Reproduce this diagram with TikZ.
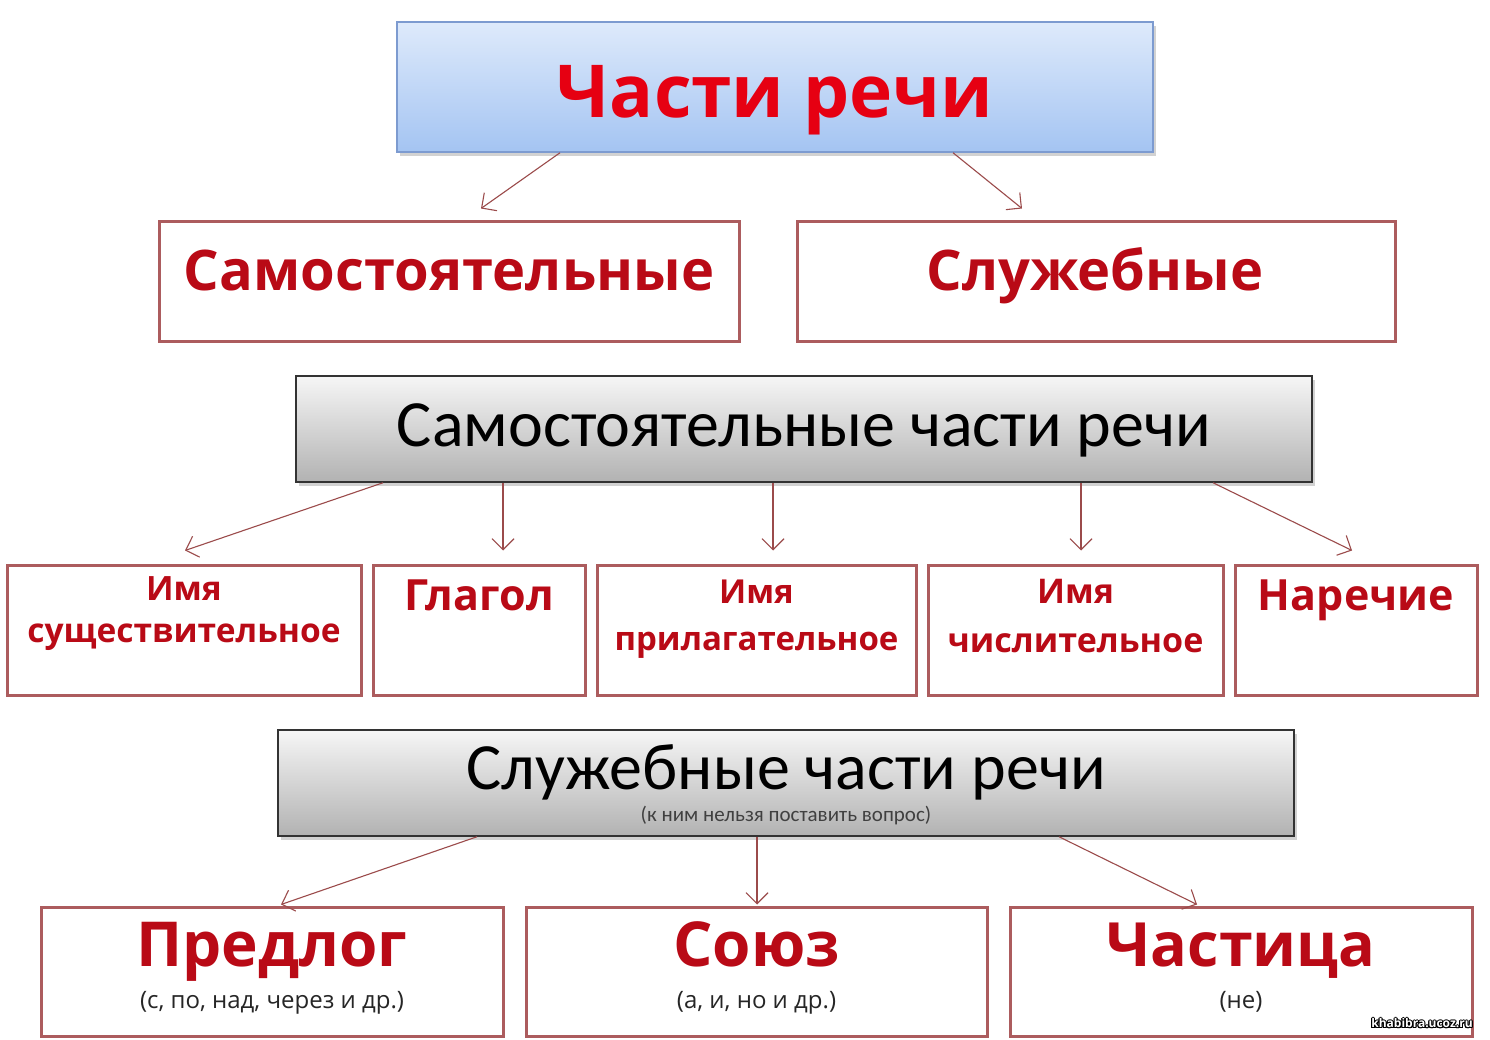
\documentclass[tikz,border=0pt]{standalone}
\usepackage{fontspec}
\setmainfont{Open Sans}
\newfontfamily\calibri{Carlito}
\usepackage{tikz}
\usetikzlibrary{arrows.meta,positioning,shadows}
\usepackage{contour}
\contourlength{1pt}
\definecolor{titlered}{RGB}{230,0,18}
\definecolor{darkred}{RGB}{185,10,22}
\definecolor{boxred}{RGB}{172,92,94}
\definecolor{arrowred}{RGB}{155,75,75}
\definecolor{blueT}{RGB}{222,234,251}
\definecolor{blueB}{RGB}{164,196,242}
\definecolor{blueline}{RGB}{125,155,208}
\definecolor{grayT}{RGB}{246,246,246}
\definecolor{grayB}{RGB}{178,178,178}

\begin{document}
\begin{tikzpicture}[x=1pt, y=-1pt,
    kind/.style={draw=boxred, line width=3pt, fill=white, minimum width=#1, minimum height=119pt, inner sep=0pt},
    part/.style={draw=boxred, line width=3pt, fill=white, minimum width=#1, minimum height=130pt, inner sep=0pt},
    head/.style={draw=black!80, line width=1.5pt, top color=grayT, bottom color=grayB, minimum width=1016pt, minimum height=106pt, inner sep=0pt, drop shadow={shadow xshift=3pt, shadow yshift=-4pt, opacity=0.35}},
    word/.style={text=darkred, align=center, inner sep=0pt, anchor=base},
    note/.style={font=\fontsize{24}{26}\selectfont, text=black!85, inner sep=0pt, anchor=base},
    arr/.style={-{Straight Barb[length=11pt,width=22pt]}, line width=1.1pt, draw=arrowred}
]
\fill[white] (0,0) rectangle (1490,1040);
\useasboundingbox (0,0) rectangle (1490,1040);

% Title
\node[draw=blueline, line width=1.5pt, top color=blueT, bottom color=blueB, minimum width=756pt, minimum height=130pt, inner sep=0pt,
      drop shadow={shadow xshift=3pt, shadow yshift=-4pt, opacity=0.35}] (top) at (775,87) {};
\node[font=\bfseries\fontsize{73}{80}\selectfont, text=titlered, inner sep=0pt, anchor=base] (ttl) at (775,118) {Части речи};

% Two kinds
\node[kind=580pt] (sam) at (449,281.5) {};
\node[kind=598pt] (slu) at (1096,281.5) {};
\node[word, font=\bfseries\fontsize{56}{60}\selectfont] (samt) at (449,291) {Самостоятельные};
\node[word, font=\bfseries\fontsize{56}{60}\selectfont] (slut) at (1095,291) {Служебные};
\draw[arr] ([xshift=-215pt]top.south) -- ([xshift=32pt,yshift=12pt]sam.north);
\draw[arr] ([xshift=178pt]top.south) -- ([xshift=-74pt,yshift=12pt]slu.north);

% Independent parts of speech
\node[head] (g1) at (804,429) {};
\node[font=\calibri\fontsize{66}{70}\selectfont, inner sep=0pt, anchor=base] (g1t) at (804,446) {Самостоятельные части речи};

\node[part=354pt] (r1) at (184,630) {};
\node[part=212pt] (r2) at (479,630) {};
\node[part=319pt] (r3) at (756.5,630) {};
\node[part=295pt] (r4) at (1075.5,630) {};
\node[part=242pt] (r5) at (1356,630) {};

\node[word, font=\bfseries\fontsize{33.5}{42}\selectfont] (t1) at (184,642) {Имя\\существительное};
\node[word, font=\bfseries\fontsize{43}{46}\selectfont] (t2) at (479,610) {Глагол};
\node[word, font=\bfseries\fontsize{33}{47}\selectfont] (t3) at (756.5,650) {Имя\\прилагательное};
\node[word, font=\bfseries\fontsize{34}{49}\selectfont] (t4) at (1075.5,652) {Имя\\числительное};
\node[word, font=\bfseries\fontsize{43}{46}\selectfont] (t5) at (1356,610) {Наречие};

\draw[arr] ([xshift=-421pt]g1.south) -- ([xshift=1pt,yshift=13pt]r1.north);
\draw[arr] ([xshift=-301pt]g1.south) -- ([xshift=24pt,yshift=13pt]r2.north);
\draw[arr] ([xshift=-31pt]g1.south) -- ([xshift=16.5pt,yshift=13pt]r3.north);
\draw[arr] ([xshift=277pt]g1.south) -- ([xshift=5.5pt,yshift=13pt]r4.north);
\draw[arr] ([xshift=409pt]g1.south) -- ([xshift=-4pt,yshift=13pt]r5.north);

% Function words
\node[head] (g2) at (786,783) {};
\node[font=\calibri\fontsize{66}{70}\selectfont, inner sep=0pt, anchor=base] (g2t) at (786,789) {Служебные части речи};
\node[font=\calibri\fontsize{21}{23}\selectfont, text=black!75, inner sep=0pt, anchor=base] (g2s) at (786,821) {(к ним нельзя поставить вопрос)};

\node[part=462pt, minimum height=129pt] (b1) at (272,971.5) {};
\node[part=461pt, minimum height=129pt] (b2) at (756.5,971.5) {};
\node[part=462pt, minimum height=129pt] (b3) at (1241,971.5) {};

\node[word, font=\bfseries\fontsize{62}{66}\selectfont] (w1) at (272,966) {Предлог};
\node[word, font=\bfseries\fontsize{62}{66}\selectfont] (w2) at (756.5,966) {Союз};
\node[word, font=\bfseries\fontsize{61}{66}\selectfont] (w3) at (1241,966) {Частица};
\node[note] (n1) at (272,1008) {(с, по, над, через и др.)};
\node[note] (n2) at (756.5,1008) {(а, и, но и др.)};
\node[note] (n3) at (1241,1008) {(не)};

\draw[arr] ([xshift=-309pt]g2.south) -- ([xshift=9pt,yshift=1pt]b1.north);
\draw[arr] ([xshift=-29pt]g2.south) -- ([xshift=0.5pt,yshift=1pt]b2.north);
\draw[arr] ([xshift=273pt]g2.south) -- ([xshift=-44pt,yshift=1pt]b3.north);

% Watermark
\node[font=\bfseries\fontsize{12}{14}\selectfont, text=white, inner sep=0pt] (wm) at (1422,1024) {\contour{black}{khabibra.ucoz.ru}};
\end{tikzpicture}
\end{document}
